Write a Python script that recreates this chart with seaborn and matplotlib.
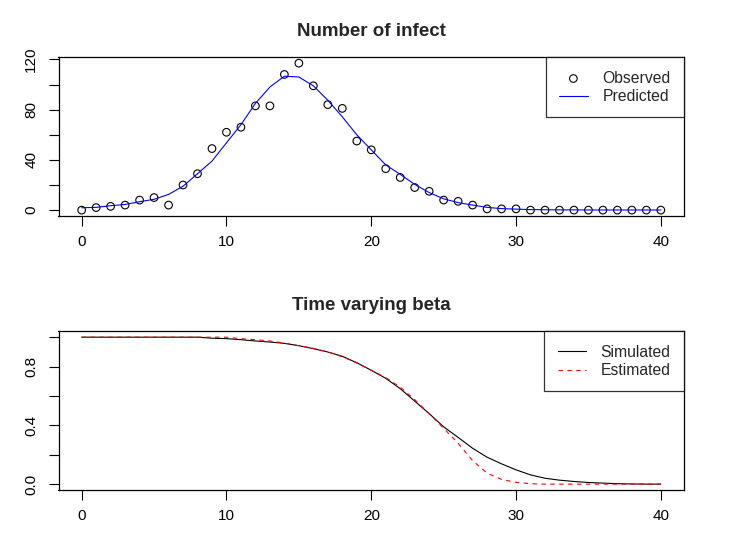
import matplotlib
matplotlib.use("Agg")
import matplotlib.pyplot as plt
import seaborn as sns
import pandas as pd

days = list(range(41))
observed = [0, 2, 3, 4, 8, 10, 4, 20, 29, 49, 62, 66, 83, 83, 108, 117, 99, 84, 81, 55,
            48, 33, 26, 18, 15, 8, 7, 4, 1, 1, 1, 0, 0, 0, 0, 0, 0, 0, 0, 0, 0]
predicted = [1.9, 2.2, 3.5, 4.5, 6.7, 8.6, 12.5, 19, 29, 39, 53.6, 68, 85, 98, 106.6, 106,
             99, 87.5, 74.3, 60, 48, 36, 28.5, 20.5, 14, 9, 6, 4, 2.2, 1.2, 0.8, 0.4, 0.3,
             0.2, 0.2, 0.1, 0.1, 0.1, 0.1, 0.1, 0.1]
simulated = [1.0, 1.0, 1.0, 1.0, 1.0, 1.0, 1.0, 1.0, 1.0, 0.993, 0.99, 0.983, 0.974, 0.967,
             0.958, 0.942, 0.922, 0.899, 0.87, 0.826, 0.775, 0.72, 0.65, 0.565, 0.48, 0.39,
             0.318, 0.244, 0.183, 0.138, 0.097, 0.063, 0.04, 0.027, 0.018, 0.011, 0.007,
             0.003, 0.001, 0.0, 0.0]
estimated = [1.0, 1.0, 1.0, 1.0, 1.0, 1.0, 1.0, 1.0, 1.0, 1.0, 1.0, 0.99, 0.983, 0.974,
             0.96, 0.942, 0.924, 0.9, 0.867, 0.826, 0.775, 0.725, 0.66, 0.575, 0.48, 0.38,
             0.278, 0.16, 0.075, 0.032, 0.012, 0.003, 0.0, 0.0, 0.0, 0.0, 0.0, 0.0, 0.0,
             0.0, 0.0]
top_title = "Number of infect"
bottom_title = "Time varying beta"
top_yticks = [0, 20, 40, 60, 80, 100, 120]
top_ylabels = ["0", "", "40", "", "80", "", "120"]
bot_yticks = [0.0, 0.2, 0.4, 0.6, 0.8, 1.0]
bot_ylabels = ["0.0", "", "0.4", "", "0.8", ""]
xticks = [0, 10, 20, 30, 40]

df = pd.DataFrame({"day": days, "observed": observed, "predicted": predicted,
                   "simulated": simulated, "estimated": estimated})

sns.set_style("white")
plt.rcParams["font.family"] = ["Liberation Sans", "DejaVu Sans"]
plt.rcParams["axes.edgecolor"] = "black"
plt.rcParams["axes.linewidth"] = 0.9

fig = plt.figure(figsize=(7.42, 5.48), dpi=100)
W, H = 742, 548

def make_ax(left, top, right, bottom):
    return fig.add_axes([left / W, 1 - bottom / H, (right - left) / W, (bottom - top) / H])

ax1 = make_ax(58.5, 57.3, 684, 216)
ax2 = make_ax(58.5, 331.3, 684, 490)

# Top panel
sns.scatterplot(data=df, x="day", y="observed", ax=ax1, marker="o", s=30,
                facecolor="none", edgecolor="black", linewidth=0.8, label="Observed")
sns.lineplot(data=df, x="day", y="predicted", ax=ax1, color="#0000FF", linewidth=0.8,
             label="Predicted")
ax1.set_xlim(-1.6, 41.6)
ax1.set_ylim(-0.04 * 117, 117 * 1.04)
ax1.set_yticks(top_yticks)
ax1.set_yticklabels(top_ylabels)

# Bottom panel
sns.lineplot(data=df, x="day", y="simulated", ax=ax2, color="black", linewidth=0.8,
             label="Simulated")
sns.lineplot(data=df, x="day", y="estimated", ax=ax2, color="#FF0000", linewidth=0.8,
             linestyle=(0, (4, 4)), label="Estimated")
ax2.set_xlim(-1.6, 41.6)
ax2.set_ylim(-0.04, 1.04)
ax2.set_yticks(bot_yticks)
ax2.set_yticklabels(bot_ylabels)

for ax, title in ((ax1, top_title), (ax2, bottom_title)):
    ax.set_xticks(xticks)
    ax.set_xlabel("")
    ax.set_ylabel("")
    ax.set_title(title, fontsize=13.5, fontweight="bold", pad=15.5)
    ax.tick_params(axis="both", direction="out", length=7.5, width=0.8, color="black",
                   labelsize=11, labelcolor="black", left=True, bottom=True)
    ax.tick_params(axis="x", pad=6)
    ax.tick_params(axis="y", pad=7)
    for lab in ax.get_yticklabels():
        lab.set_rotation(90)
        lab.set_va("center")
    for sp in ax.spines.values():
        sp.set_visible(True)
        sp.set_color("black")
        sp.set_linewidth(0.9)
    leg = ax.legend(loc="upper right", frameon=True, fancybox=False, borderaxespad=0,
                    fontsize=11.3, handlelength=1.8, handletextpad=0.95,
                    borderpad=0.85, labelspacing=0.22)
    leg.get_frame().set_edgecolor("black")
    leg.get_frame().set_linewidth(0.9)

fig.savefig("out.png", dpi=100, facecolor="white")
